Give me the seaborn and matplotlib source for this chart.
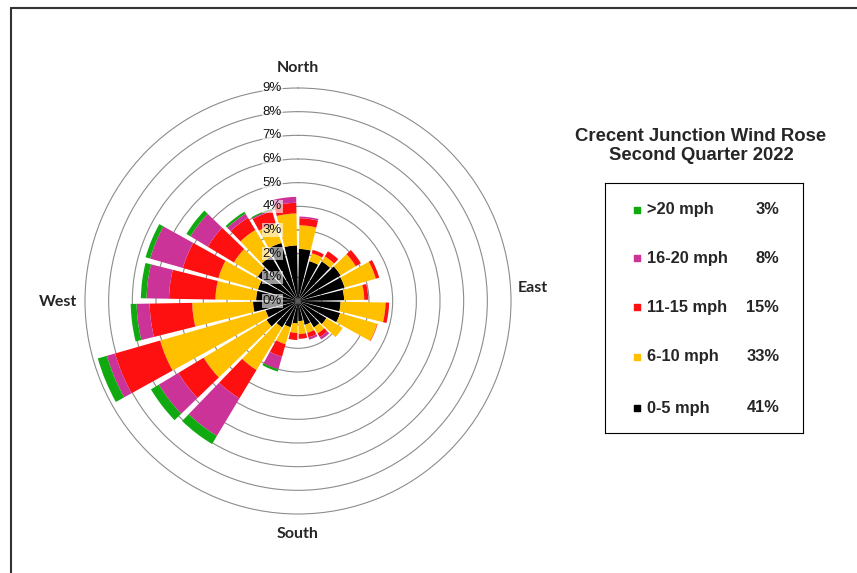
import numpy as np
import matplotlib
matplotlib.use("Agg")
import matplotlib.pyplot as plt
import matplotlib.transforms as mtransforms
from matplotlib.lines import Line2D
import seaborn as sns

# wind direction bins (degrees, centre of each 15 degree sector)
directions = [7.5, 22.5, 37.5, 52.5, 67.5, 82.5, 97.5, 112.5, 127.5, 142.5, 157.5, 172.5,
              187.5, 202.5, 217.5, 232.5, 247.5, 262.5, 277.5, 292.5, 307.5, 322.5, 337.5, 352.5]

# percent of time in each direction bin, per speed class
speed_0_5 = [2.2, 1.75, 1.95, 2.1, 2.05, 1.95, 1.8, 1.85, 1.4, 1.3, 1.05, 0.85,
             0.95, 1.15, 1.3, 1.55, 1.42, 1.9, 1.77, 1.76, 1.98, 2.2, 2.55, 2.35]
speed_6_10 = [1.0, 0.35, 0.25, 0.75, 1.37, 0.85, 1.9, 1.63, 0.8, 0.3, 0.35, 0.55,
              0.4, 0.75, 2.1, 3.1, 4.64, 2.57, 1.72, 1.74, 1.18, 1.3, 0.85, 1.35]
speed_11_15 = [0.3, 0.15, 0.25, 0.25, 0.15, 0.17, 0.15, 0.02, 0.0, 0.18, 0.2, 0.2,
               0.3, 0.55, 1.4, 1.25, 1.98, 1.8, 1.96, 1.56, 1.29, 0.6, 0.55, 0.45]
speed_16_20 = [0.07, 0.0, 0.0, 0.0, 0.0, 0.0, 0.0, 0.0, 0.0, 0.12, 0.1, 0.0,
               0.0, 0.55, 1.85, 0.96, 0.36, 0.55, 0.95, 1.44, 0.85, 0.2, 0.05, 0.25]
speed_20_plus = [0.0, 0.0, 0.0, 0.0, 0.0, 0.0, 0.0, 0.0, 0.0, 0.0, 0.0, 0.0,
                 0.0, 0.1, 0.4, 0.39, 0.4, 0.25, 0.24, 0.2, 0.2, 0.1, 0.05, 0.0]

classes = ["0-5 mph", "6-10 mph", "11-15 mph", "16-20 mph", ">20 mph"]
class_totals = [41, 33, 15, 8, 3]
colors = ["#000000", "#FFC000", "#FF1010", "#CC3399", "#10AA10"]
ring_ticks = [0, 1, 2, 3, 4, 5, 6, 7, 8, 9]

sns.set_style("white")
plt.rcParams["font.family"] = ["Liberation Sans", "DejaVu Sans"]

W, H = 857, 573
fig = plt.figure(figsize=(W / 100, H / 100), dpi=100)

# polar axes: centre (298, 301) px, 9% ring at 213 px
cx, cy, r9 = 298, 301, 213
rmax = 9.05
rad = r9 * rmax / 9
ax = fig.add_axes([(cx - rad) / W, (H - cy - rad) / H, 2 * rad / W, 2 * rad / H],
                  projection="polar")
ax.set_theta_zero_location("N")
ax.set_theta_direction(-1)
ax.set_ylim(0, rmax)
ax.set_axisbelow(True)

theta = np.deg2rad(directions)
width = np.deg2rad(13)
bottom = np.zeros(len(directions))
for vals, col in zip([speed_0_5, speed_6_10, speed_11_15, speed_16_20, speed_20_plus], colors):
    vals = np.array(vals)
    ax.bar(theta, vals, width=width, bottom=bottom, color=col, edgecolor="none",
           linewidth=0, zorder=2)
    bottom = bottom + vals

ax.set_yticks(ring_ticks[1:])
ax.set_yticklabels([])
ax.set_xticks([])
ax.yaxis.grid(True, color="#8c8c8c", linewidth=0.8)
ax.xaxis.grid(False)
ax.spines["polar"].set_visible(False)

# radial labels just left of the north line
off = mtransforms.offset_copy(ax.transData, fig=fig, x=-16, y=0, units="dots")
for r in ring_ticks:
    ax.text(0, r, f"{r}%", transform=off, ha="right", va="center", fontsize=9.5,
            color="#111111", zorder=5,
            bbox=dict(boxstyle="square,pad=0.05", facecolor="white", alpha=0.6,
                      edgecolor="none"))

# compass labels
comp = dict(fontsize=11.5, fontweight="bold", family=["Lato", "DejaVu Sans"],
            ha="center", va="center")
fig.text(298 / W, 1 - 68 / H, "North", **comp)
fig.text(298 / W, 1 - 534 / H, "South", **comp)
fig.text(533 / W, 1 - 288 / H, "East", **comp)
fig.text(58 / W, 1 - 302 / H, "West", **comp)

# title
fig.text(701 / W, 1 - 146 / H, "Crecent Junction Wind Rose\nSecond Quarter 2022",
         ha="center", va="center", fontsize=13.3, fontweight="bold", linespacing=1.2)

# legend box
lx0, ly0, lx1, ly1 = 605, 183, 803, 433
lax = fig.add_axes([lx0 / W, (H - ly1) / H, (lx1 - lx0) / W, (ly1 - ly0) / H])
lax.set_xlim(0, 1)
lax.set_ylim(0, 1)
lax.set_xticks([])
lax.set_yticks([])
for s in lax.spines.values():
    s.set_color("black")
    s.set_linewidth(0.8)
rows_y = [0.10, 0.305, 0.503, 0.70, 0.893]
for yy, name, tot, col in zip(rows_y, classes, class_totals, colors):
    lax.scatter([0.16], [yy], marker="s", s=22, color=col)
    lax.text(0.212, yy, name, ha="left", va="center", fontsize=11.8, fontweight="bold")
    lax.text(0.88, yy, f"{tot}%", ha="right", va="center", fontsize=11.8, fontweight="bold")

# frame lines at top and left
fig.add_artist(Line2D([11 / W, 1], [1 - 7.5 / H, 1 - 7.5 / H], color="#333333", linewidth=1.5))
fig.add_artist(Line2D([11 / W, 11 / W], [0, 1 - 7.5 / H], color="#333333", linewidth=1.5))

fig.savefig("out.png", dpi=100)
